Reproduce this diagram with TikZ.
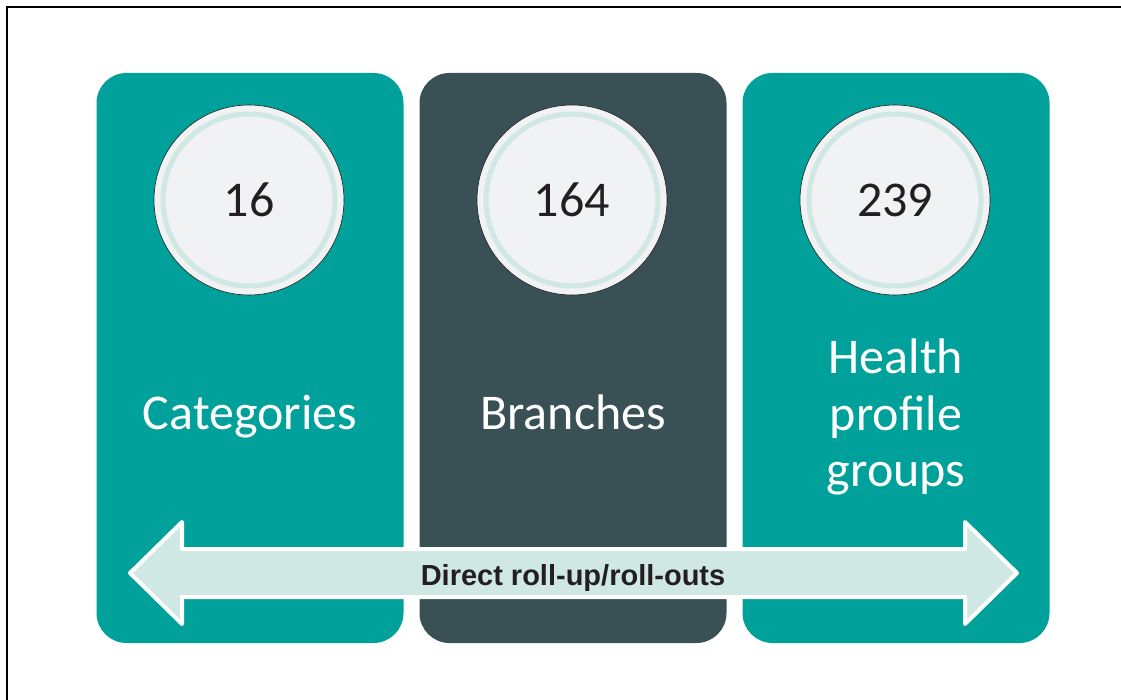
\documentclass[tikz,border=0pt]{standalone}
\usepackage{fontspec}
\setmainfont{Carlito}
\newfontfamily\arrowfont{Liberation Sans}
\definecolor{tealpanel}{HTML}{00A19A}
\definecolor{darkpanel}{HTML}{395054}
\definecolor{palering}{HTML}{D0E8E3}
\definecolor{discfill}{HTML}{F1F2F4}
\definecolor{numtext}{HTML}{231F20}

\begin{document}
\begin{tikzpicture}[x=1pt, y=-1pt,
    panel/.style={rectangle, rounded corners=30pt, minimum width=307pt, minimum height=570pt, inner sep=0pt},
    disc/.style={circle, minimum size=190pt, inner sep=0pt, fill=discfill, draw=numtext, line width=0.6pt, text=numtext, font=\fontsize{50}{60}\selectfont},
    ring/.style={draw=palering, line width=5pt},
    panelText/.style={text=white, align=center, font=\fontsize{50}{56.5}\selectfont},
    rollArrow/.style={fill=palering, draw=white, line width=4pt, line join=round},
    arrowText/.style={text=numtext, font=\arrowfont\bfseries\fontsize{29}{33}\selectfont}]
    \def \ringRadius {86pt}
    \useasboundingbox (0,0) rectangle (1121,700);
    \draw[line width=1.5pt] (7,700) -- (7,7) -- (1121,7);

    \node[panel, fill=tealpanel] (catPanel) at (250,358) {};
    \node[panel, fill=darkpanel] (branchPanel) at (573,358) {};
    \node[panel, fill=tealpanel] (groupPanel) at (896,358) {};

    \node[disc] (catDisc) at (249,200) {16};
    \node[disc] (branchDisc) at (572,200) {164};
    \node[disc] (groupDisc) at (895,200) {239};
    \draw[ring] (catDisc.center) circle (\ringRadius);
    \draw[ring] (branchDisc.center) circle (\ringRadius);
    \draw[ring] (groupDisc.center) circle (\ringRadius);

    \node[panelText, anchor=base] (catLabel) at (250,429) {Categories};
    \node[panelText, anchor=base] (branchLabel) at (573,429) {Branches};
    \node[panelText] (groupLabel) at (896,417) {Health\\profile\\groups};

    \draw[rollArrow] (130,573) -- ++(52,-51) -- ++(0,27) -- (965,549) -- ++(0,-27) -- (1017,573)
        -- ++(-52,51) -- ++(0,-27) -- (182,597) -- ++(0,27) -- cycle;
    \node[arrowText, anchor=base] (rollLabel) at (573,585) {Direct roll-up/roll-outs};
\end{tikzpicture}
\end{document}
